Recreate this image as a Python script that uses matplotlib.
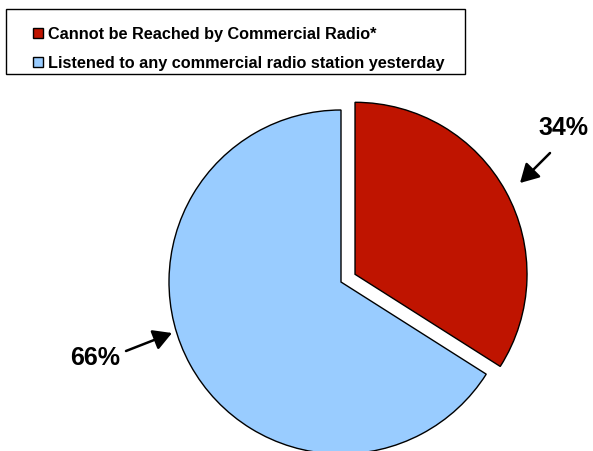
import matplotlib.pyplot as plt
from matplotlib.patches import Rectangle

# radio reach shares
labels = ['Cannot be Reached by Commercial Radio*',
          'Listened to any commercial radio station yesterday']
values = [34, 66]
colors = ['#BF1400', '#99CCFF']

plt.rcParams['font.family'] = ['Liberation Sans', 'DejaVu Sans']

W, H = 593, 451
fig = plt.figure(figsize=(W / 100, H / 100), dpi=100)
ax = fig.add_axes([0, 0, 1, 1])

# explode is given in data units here (pixels), not as a radius fraction
wedges, _ = ax.pie(values, colors=colors, startangle=90, counterclock=False,
                   explode=[16, 0], center=(341, 169), radius=172,
                   wedgeprops=dict(edgecolor='black', linewidth=1.0),
                   frame=True)
ax.set_xlim(0, W)
ax.set_ylim(0, H)
ax.axis('off')

# percent labels with arrows pointing at the slices
ax.text(563, 323, f'{values[0]}%', fontsize=18, fontweight='bold',
        ha='center', va='center')
ax.annotate('', xy=(520, 268), xytext=(550, 298),
            arrowprops=dict(arrowstyle='-|>,head_length=0.8,head_width=0.45',
                            color='black', lw=1.8, mutation_scale=14,
                            shrinkA=0, shrinkB=0))
ax.text(95, 93, f'{values[1]}%', fontsize=18, fontweight='bold',
        ha='center', va='center')
ax.annotate('', xy=(172, 118), xytext=(126, 100),
            arrowprops=dict(arrowstyle='-|>,head_length=0.8,head_width=0.45',
                            color='black', lw=1.8, mutation_scale=14,
                            shrinkA=0, shrinkB=0))

# legend box
ax.add_patch(Rectangle((6, H - 74), 459, 65, fill=False, edgecolor='black',
                       linewidth=1.0, clip_on=False))
leg = ax.legend(wedges, labels, loc='upper left', bbox_to_anchor=(33, H - 27),
                bbox_transform=ax.transData, frameon=False, borderpad=0,
                borderaxespad=0, handlelength=0.6, handleheight=0.6,
                handletextpad=0.3, labelspacing=0.85,
                prop=dict(size=11.7, weight='bold'))

fig.savefig('out.png', dpi=100)
